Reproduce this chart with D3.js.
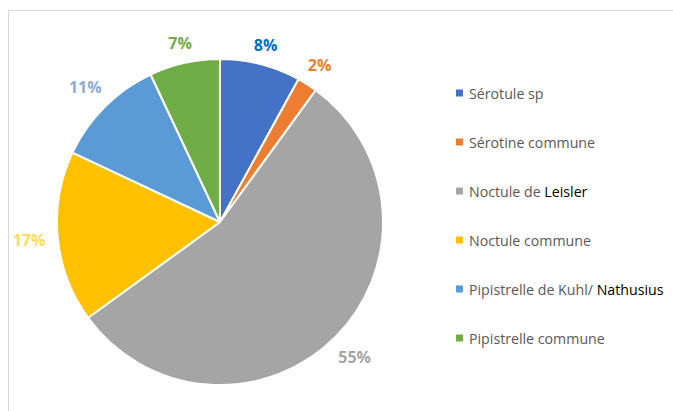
<!DOCTYPE html>
<html>
<head>
<meta charset="utf-8">
<script src="https://cdn.jsdelivr.net/npm/d3@7/dist/d3.min.js"></script>
<style>
  html, body { margin: 0; padding: 0; background: #fff; }
  svg { display: block; }
</style>
</head>
<body>
<svg id="chart" width="673" height="411"></svg>
<script>
// Species shares (%)
const categories = [
  "Sérotule sp",
  "Sérotine commune",
  "Noctule de Leisler",
  "Noctule commune",
  "Pipistrelle de Kuhl/Nathusius",
  "Pipistrelle commune"
];
const values = [8, 2, 55, 17, 11, 7];
const sliceColors = ["#4472C4", "#ED7D31", "#A5A5A5", "#FFC000", "#5B9BD5", "#70AD47"];
const labelColors = ["#0070C0", "#ED7D31", "#A5A5A5", "#FFD966", "#8FAADC", "#70AD47"];
// Legend entries: plain part + darker trailing part
const legendParts = [
  ["Sérotule sp", ""],
  ["Sérotine commune", ""],
  ["Noctule de ", "Leisler"],
  ["Noctule commune", ""],
  ["Pipistrelle de Kuhl/ ", "Nathusius"],
  ["Pipistrelle commune", ""]
];

const svg = d3.select("#chart");
const font = "'Open Sans', 'Noto Sans', sans-serif";

// Chart frame
svg.append("rect")
  .attr("x", 8.5).attr("y", 10.5)
  .attr("width", 700).attr("height", 420)
  .attr("fill", "#fff")
  .attr("stroke", "#D9D9D9").attr("stroke-width", 1);

const cx = 220, cy = 222, r = 163;
const g = svg.append("g").attr("transform", `translate(${cx},${cy})`);

const pie = d3.pie().sort(null).value(d => d);
const arcs = pie(values);
const arc = d3.arc().innerRadius(0).outerRadius(r);

g.selectAll("path.slice")
  .data(arcs)
  .join("path")
  .attr("class", "slice")
  .attr("d", arc)
  .attr("fill", (d, i) => sliceColors[i])
  .attr("stroke", "#fff")
  .attr("stroke-width", 2)
  .attr("stroke-linejoin", "round");

// Percentage labels placed just outside the rim, pushed out by their own box size
const pad = 12;
g.selectAll("text.pct")
  .data(arcs)
  .join("text")
  .attr("class", "pct")
  .attr("text-anchor", "middle")
  .attr("dominant-baseline", "central")
  .attr("font-family", font)
  .attr("font-weight", "bold")
  .attr("font-size", 16)
  .attr("fill", (d, i) => labelColors[i])
  .text(d => d.data + "%")
  .each(function (d) {
    const box = this.getBBox();
    const a = (d.startAngle + d.endAngle) / 2;
    const sx = Math.sin(a), cy_ = -Math.cos(a);
    const ext = box.width / 2 * Math.abs(sx) + 5.5 * Math.abs(cy_);
    const dist = r + pad + ext;
    d3.select(this).attr("transform", `translate(${sx * dist},${cy_ * dist})`);
  });

// Legend
const legendY = d3.scalePoint().domain(categories).range([93, 338]);
const legend = svg.append("g");
const rows = legend.selectAll("g.row")
  .data(categories)
  .join("g")
  .attr("class", "row")
  .attr("transform", d => `translate(0,${legendY(d)})`);

rows.append("rect")
  .attr("x", 456).attr("y", -3.5)
  .attr("width", 7).attr("height", 7)
  .attr("fill", (d, i) => sliceColors[i]);

const txt = rows.append("text")
  .attr("x", 469)
  .attr("dominant-baseline", "central")
  .attr("font-family", font)
  .attr("font-size", 14.2)
  .attr("fill", "#595959");

txt.append("tspan").text((d, i) => legendParts[i][0]);
txt.append("tspan").attr("fill", "#000").text((d, i) => legendParts[i][1]);
</script>
</body>
</html>
